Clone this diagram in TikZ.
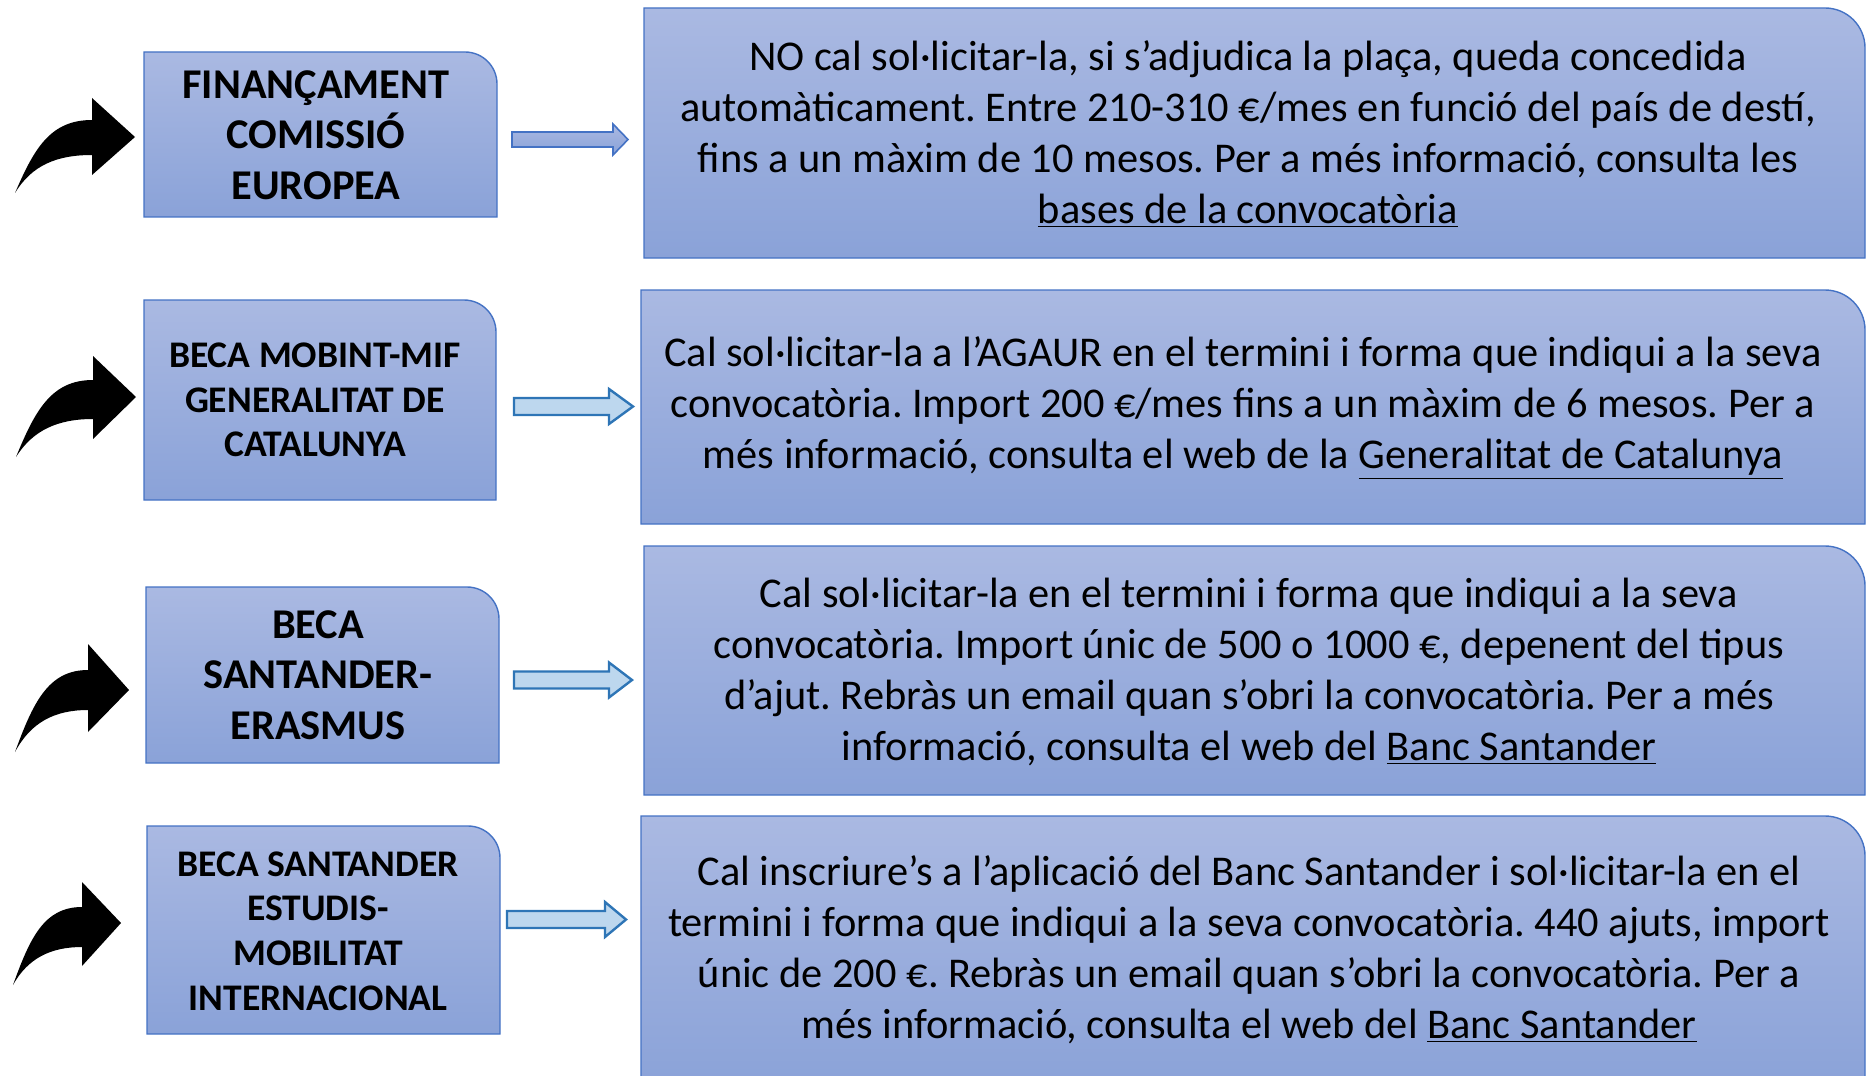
\documentclass[tikz,border=0pt]{standalone}
\usepackage{fontspec}
\setmainfont{Carlito}
\frenchspacing
\definecolor{boxtop}{HTML}{AAB9E2}
\definecolor{boxbot}{HTML}{8AA2D8}
\definecolor{boxline}{HTML}{4472C4}
\definecolor{arrfill}{HTML}{BDD7EE}
\definecolor{arrline}{HTML}{2E75B6}
\newcommand{\cbox}[6]{\path[#6] (#1,#4) -- (#1,#2) -- ({#3-#5},#2) .. controls ({#3-0.448*#5},#2) and (#3,{#2+0.448*#5}) .. (#3,{#2+#5}) -- (#3,#4) -- cycle;}
\newcommand{\blkarrow}[7]{\path[#7] (#1,{#4-#5}) -- (#2,{#4-#5}) -- (#2,{#4-#6}) -- (#3,#4) -- (#2,{#4+#6}) -- (#2,{#4+#5}) -- (#1,{#4+#5}) -- cycle;}
\tikzset{
  boxshape/.style={top color=boxtop, bottom color=boxbot, draw=boxline, line width=0.7pt},
  arrowblue/.style={top color=boxtop, bottom color=boxbot, draw=boxline, line width=0.8pt},
  arrowlight/.style={fill=arrfill, draw=arrline, line width=1.2pt},
  curvy/.style={fill=black},
  rtext/.style={inner sep=0pt, align=center, font=\fontsize{21.2pt}{25.5pt}\selectfont},
  ltextbig/.style={inner sep=0pt, align=center, font=\bfseries\fontsize{21.2pt}{25.3pt}\selectfont},
  ltextsmall/.style={inner sep=0pt, align=center, font=\bfseries\fontsize{18.8pt}{22.4pt}\selectfont},
}
\begin{document}
\begin{tikzpicture}[x=0.5pt, y=-0.5pt]
\useasboundingbox (0,0) rectangle (1866,1075);
\clip (0,0) rectangle (1866,1075);
% left boxes
\cbox{144}{52}{497}{217}{32}{boxshape}
\cbox{144}{300}{496}{500}{32}{boxshape}
\cbox{146}{587}{499}{763}{32}{boxshape}
\cbox{147}{826}{500}{1034}{32}{boxshape}
% right boxes
\cbox{644}{8}{1865}{258}{40}{boxshape}
\cbox{641}{290}{1865}{524}{40}{boxshape}
\cbox{644}{546}{1865}{795}{40}{boxshape}
\cbox{641}{816}{1865}{1090}{40}{boxshape}
% block arrows
\blkarrow{512}{613}{628}{139.5}{7.5}{15.5}{arrowblue}
\blkarrow{514}{609}{633}{406.5}{8.5}{17.5}{arrowlight}
\blkarrow{514}{609}{632}{680}{8.5}{17.5}{arrowlight}
\blkarrow{507}{605}{626}{919.5}{8.5}{17.5}{arrowlight}
% curved arrows
\path[curvy] (15,193) .. controls (34,149) and (50,120) .. (92,120) -- (92,98) -- (135,137) -- (92,175) -- (92,155) .. controls (57,155) and (32,165) .. (15,193) -- cycle;
\path[curvy] (16,457) .. controls (35,411) and (51,380) .. (93,380) -- (93,356) -- (136,397) -- (93,439) -- (93,419) .. controls (58,419) and (33,430) .. (16,457) -- cycle;
\path[curvy] (15,752) .. controls (33,703) and (48,670) .. (88,670) -- (88,644) -- (129,690) -- (88,732) -- (88,710) .. controls (55,710) and (31,722) .. (15,752) -- cycle;
\path[curvy] (13,985) .. controls (30,938) and (44,907) .. (82,907) -- (82,882) -- (121,923) -- (82,966) -- (82,947) .. controls (51,947) and (28,958) .. (13,985) -- cycle;
% left texts
\node[ltextbig] (l1) at (316,135) {FINANÇAMENT\\COMISSIÓ\\EUROPEA};
\node[ltextsmall] (l2) at (315,400) {BECA MOBINT-MIF\\GENERALITAT DE\\CATALUNYA};
\node[ltextbig] (l3) at (318,675) {BECA\\SANTANDER-\\ERASMUS};
\node[ltextsmall] (l4) at (318,931) {BECA SANTANDER\\ESTUDIS-\\MOBILITAT\\INTERNACIONAL};
% right texts
\node[rtext] (r1) at (1248,134) {NO cal sol·licitar-la, si s’adjudica la plaça, queda concedida\\automàticament. Entre 210-310 €/mes en funció del país de destí,\\fins a un màxim de 10 mesos. Per a més informació, consulta les\\\underline{bases de la convocatòria}};
\node[rtext] (r2) at (1243,408) {Cal sol·licitar-la a l’AGAUR en el termini i forma que indiqui a la seva\\convocatòria. Import 200 €/mes fins a un màxim de 6 mesos. Per a\\més informació, consulta el web de la \underline{Generalitat de Catalunya}};
\node[rtext] (r3) at (1249,672) {Cal sol·licitar-la en el termini i forma que indiqui a la seva\\convocatòria. Import únic de 500 o 1000 €, depenent del tipus\\d’ajut. Rebràs un email quan s’obri la convocatòria. Per a més\\informació, consulta el web del \underline{Banc Santander}};
\node[rtext] (r4) at (1249,950) {Cal inscriure’s a l’aplicació del Banc Santander i sol·licitar-la en el\\termini i forma que indiqui a la seva convocatòria. 440 ajuts, import\\únic de 200 €. Rebràs un email quan s’obri la convocatòria. Per a\\més informació, consulta el web del \underline{Banc Santander}};
\end{tikzpicture}
\end{document}
